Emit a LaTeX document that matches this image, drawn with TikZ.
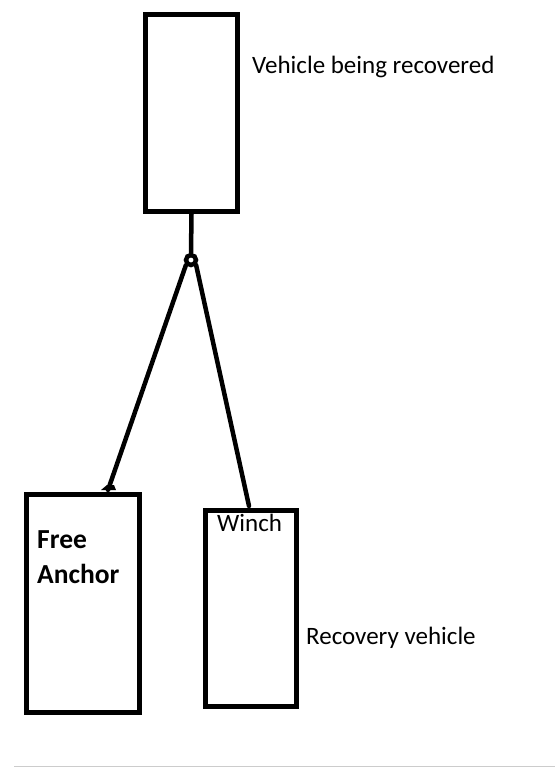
\documentclass[tikz,border=0pt]{standalone}
\usepackage{fontspec}
\setmainfont{Carlito}
\begin{document}
\begin{tikzpicture}[x=1pt,y=-1pt,
  vbox/.style={draw=black,line width=5pt,fill=white,inner sep=0pt,anchor=north west},
  rope/.style={line width=4.5pt,line cap=round},
  lbl/.style={font=\fontsize{25}{30}\selectfont,inner sep=0pt,anchor=west}]
\useasboundingbox (0,0) rectangle (555,772);
\draw[gray!40,line width=1pt] (14,766) -- (555,766);
\node[vbox,minimum width=92pt,minimum height=197pt] (veh) at (143,12) {};
\node[vbox,minimum width=113pt,minimum height=218pt] (anc) at (24,492) {};
\node[vbox,minimum width=91pt,minimum height=196pt] (rec) at (203,508) {};
\node[draw=black,circle,line width=4.5pt,minimum size=10pt,inner sep=0pt] (ring) at (191,260) {};
\coordinate (ancpt) at (108,490);
\coordinate (winpt) at (249,506);
\draw[rope] (veh.south) -- (ring.north);
\draw[rope] (ring.south west) -- (ancpt);
\draw[rope] (ring.south east) -- (winpt);
\fill (ancpt) ++(-7,0) -- ++(6,-5) -- ++(7,0) -- ++(2,5) -- cycle;
\node[lbl] (t1) at (252,67) {Vehicle being recovered};
\node[lbl,font=\fontsize{27.5}{35}\selectfont\bfseries,align=left] (t2) at (37,557) {Free\\Anchor};
\node[lbl] (t3) at (217,523) {Winch};
\node[lbl] (t4) at (306,638) {Recovery vehicle};
\end{tikzpicture}
\end{document}
